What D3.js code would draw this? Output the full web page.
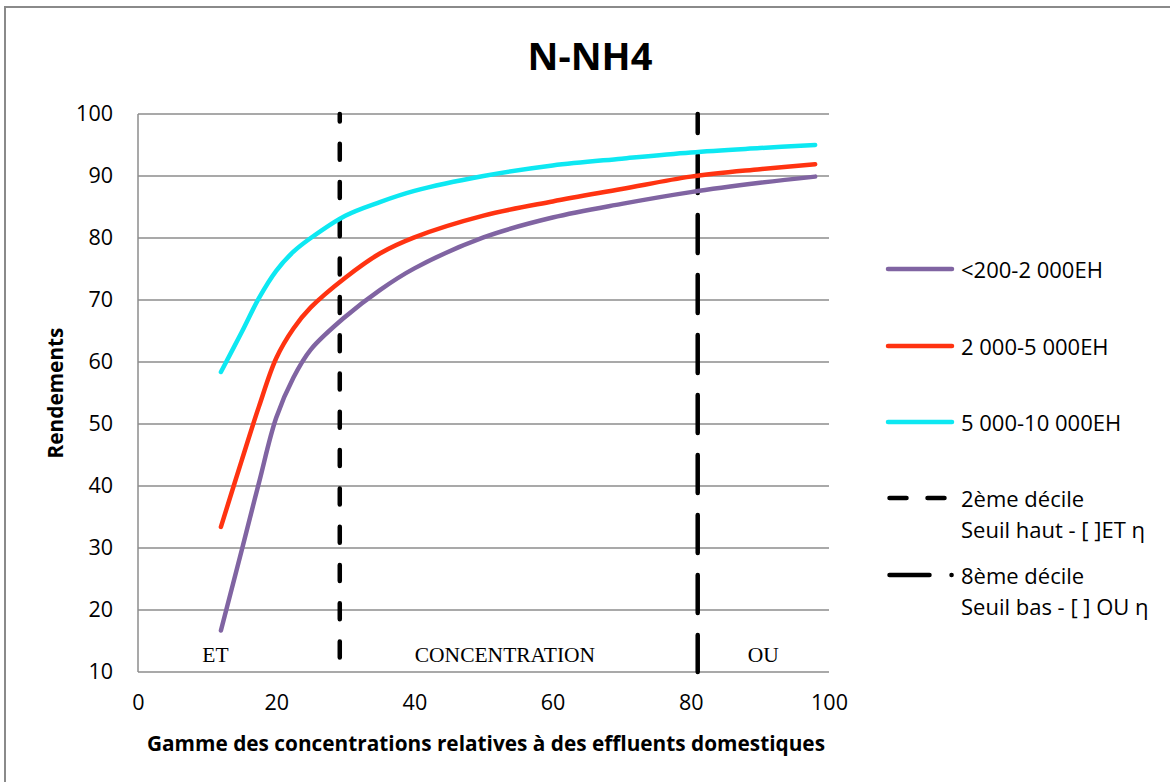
<!DOCTYPE html>
<html>
<head>
<meta charset="utf-8">
<script src="https://cdn.jsdelivr.net/npm/d3@7/dist/d3.min.js"></script>
<style>
  html, body { margin: 0; padding: 0; background: #fff; }
  svg { display: block; }
</style>
</head>
<body>
<svg id="chart" width="1170" height="782"></svg>
<script>
// ---- data ----
const title = "N-NH4";
const xLabel = "Gamme des concentrations relatives à des effluents domestiques";
const yLabel = "Rendements";
const xValues = [12, 15, 17.5, 20, 22.5, 25, 30, 35, 40, 50, 60, 70, 80, 90, 98];
const seriesNames = ["<200-2 000EH", "2 000-5 000EH", "5 000-10 000EH"];
const seriesSmall  = [16.7, 29.6, 40.5, 51.0, 57.5, 62.0, 67.3, 71.6, 75.1, 80.1, 83.3, 85.5, 87.4, 88.9, 89.9];
const seriesMedium = [33.4, 44.1, 52.8, 60.6, 65.4, 68.8, 73.6, 77.5, 80.1, 83.6, 85.9, 87.9, 89.9, 91.1, 91.9];
const seriesLarge  = [58.4, 64.8, 70.3, 74.7, 77.8, 80.0, 83.6, 85.8, 87.6, 90.0, 91.7, 92.8, 93.8, 94.5, 95.0];
const seriesColors = ["#8064a2", "#ff3311", "#0de8f2"];
const deciles = [29.2, 81.0];
const decileLabels = [["2ème décile", "Seuil haut - [ ]ET η"], ["8ème décile", "Seuil bas - [ ] OU η"]];
const zoneLabels = ["ET", "CONCENTRATION", "OU"];
const zoneCenters = [11.2, 53.1, 90.5];
const xTicks = [0, 20, 40, 60, 80, 100];
const yTicks = [10, 20, 30, 40, 50, 60, 70, 80, 90, 100];

// ---- layout ----
const svg = d3.select("#chart");
const sans = "'Open Sans', 'Noto Sans', sans-serif";
const pLeft = 138, pRight = 829, pTop = 114, pBottom = 672;
const x = d3.scaleLinear().domain([0, 100]).range([pLeft, pRight]);
const y = d3.scaleLinear().domain([10, 100]).range([pBottom, pTop]);

// outer border
svg.append("rect").attr("x", 5).attr("y", 7).attr("width", 1200).attr("height", 800)
  .attr("fill", "none").attr("stroke", "#8a8a8a").attr("stroke-width", 2);

// title
svg.append("text").attr("x", 590).attr("y", 55).attr("text-anchor", "middle")
  .attr("dominant-baseline", "central")
  .style("font-family", sans).style("font-weight", "bold").style("font-size", "38px")
  .text(title);

// gridlines
svg.append("g").selectAll("line").data(yTicks).join("line")
  .attr("x1", pLeft).attr("x2", pRight)
  .attr("y1", d => y(d)).attr("y2", d => y(d))
  .attr("stroke", "#8c8c8c").attr("stroke-width", 1.5);
// left axis line
svg.append("line").attr("x1", pLeft).attr("x2", pLeft).attr("y1", pTop).attr("y2", pBottom)
  .attr("stroke", "#8c8c8c").attr("stroke-width", 1.5);

// y axis labels
const yAxis = d3.axisLeft(y).tickValues(yTicks).tickSize(0).tickPadding(25);
const gy = svg.append("g").attr("transform", `translate(${pLeft},0)`).call(yAxis);
gy.select(".domain").remove();
gy.selectAll("text").style("font-family", sans).style("font-size", "21.5px").attr("fill", "#000");

// x axis labels
const xAxis = d3.axisBottom(x).tickValues(xTicks).tickSize(0).tickPadding(23);
const gx = svg.append("g").attr("transform", `translate(0,${pBottom})`).call(xAxis);
gx.select(".domain").remove();
gx.selectAll("text").style("font-family", sans).style("font-size", "21.5px").attr("fill", "#000");

// axis titles
svg.append("text").attr("x", 486).attr("y", 743).attr("text-anchor", "middle")
  .attr("dominant-baseline", "central")
  .style("font-family", sans).style("font-weight", "bold").style("font-size", "20.8px")
  .text(xLabel);
svg.append("text").attr("transform", "translate(55,393) rotate(-90)").attr("text-anchor", "middle")
  .attr("dominant-baseline", "central")
  .style("font-family", sans).style("font-weight", "bold").style("font-size", "20.8px")
  .text(yLabel);

// zone labels
svg.append("g").selectAll("text").data(zoneLabels).join("text")
  .attr("x", (d, i) => x(zoneCenters[i])).attr("y", 655)
  .attr("text-anchor", "middle").attr("dominant-baseline", "central")
  .style("font-family", "'Liberation Serif', 'Times New Roman', serif").style("font-size", "21.5px")
  .text(d => d);

// decile lines
const decileDash = ["16,22.3", "38,22"];
const decileOffset = [8.6, 19];
svg.append("g").selectAll("line").data(deciles).join("line")
  .attr("x1", d => x(d)).attr("x2", d => x(d)).attr("y1", pTop).attr("y2", pBottom)
  .attr("stroke", "#000").attr("stroke-width", 4.5).attr("stroke-linecap", "round")
  .attr("stroke-dasharray", (d, i) => decileDash[i])
  .attr("stroke-dashoffset", (d, i) => decileOffset[i]);

// series lines
const allSeries = [seriesSmall, seriesMedium, seriesLarge];
const line = d3.line().x((d, i) => x(xValues[i])).y(d => y(d)).curve(d3.curveCatmullRom.alpha(0.5));
svg.append("g").selectAll("path").data(allSeries).join("path")
  .attr("d", d => line(d)).attr("fill", "none")
  .attr("stroke", (d, i) => seriesColors[i]).attr("stroke-width", 4.5)
  .attr("stroke-linecap", "round").attr("stroke-linejoin", "round");

// legend
const legX1 = 888, legX2 = 952, legText = 961;
const legY = [269, 346, 422];
const lg = svg.append("g");
seriesNames.forEach((name, i) => {
  lg.append("line").attr("x1", legX1).attr("x2", legX2).attr("y1", legY[i]).attr("y2", legY[i])
    .attr("stroke", seriesColors[i]).attr("stroke-width", 4.5).attr("stroke-linecap", "round");
  lg.append("text").attr("x", legText).attr("y", legY[i]).attr("dominant-baseline", "central")
    .style("font-family", sans).style("font-size", "22px").text(name);
});
const decLegY = [498, 575];
const decLegDash = ["17,21", "40,22,0.1,20"];
decileLabels.forEach((lines, i) => {
  lg.append("line").attr("x1", legX1 + 1.5).attr("x2", legX2).attr("y1", decLegY[i]).attr("y2", decLegY[i])
    .attr("stroke", "#000").attr("stroke-width", 4.5).attr("stroke-linecap", "round")
    .attr("stroke-dasharray", decLegDash[i]);
  lines.forEach((t, j) => {
    lg.append("text").attr("x", legText).attr("y", decLegY[i] + j * 31).attr("dominant-baseline", "central")
      .style("font-family", sans).style("font-size", "22px").text(t);
  });
});
</script>
</body>
</html>
